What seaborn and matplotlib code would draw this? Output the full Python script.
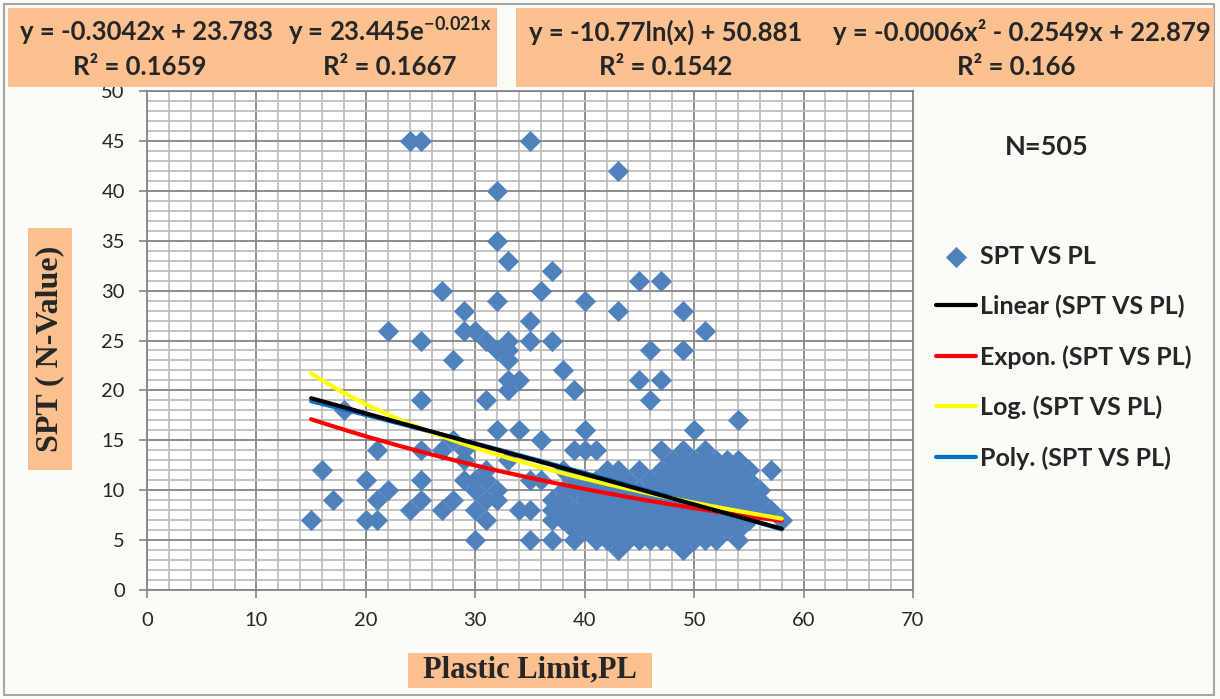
import matplotlib
matplotlib.use("Agg")
import matplotlib.pyplot as plt
from matplotlib.patches import Rectangle
from matplotlib.ticker import MultipleLocator
import numpy as np
import seaborn as sns

# ---------------- data ----------------
pl = [24, 25, 35, 43, 32, 32, 33, 37, 45, 47, 27, 36, 32, 40, 29, 43, 49, 35, 22, 29, 30, 51,
      25, 31, 33, 35, 37, 32, 33, 46, 49, 28, 33, 38, 33, 34, 45, 47, 33, 39, 25, 31, 46, 18,
      54, 32, 34, 40, 50, 28, 36, 21, 25, 27, 29, 39, 40, 41, 47, 29, 33, 16, 31, 42, 43, 45,
      57, 20, 25, 29, 30, 31, 35, 36, 22, 30, 32, 17, 21, 25, 28, 31, 32, 37, 24, 27, 30, 34,
      35, 37, 38, 15, 20, 21, 31, 37, 38, 58, 30, 35, 37, 39, 54,
      38, 38, 38, 38, 39, 39, 39, 39, 39,
      40, 40, 40, 40, 40, 40,
      41, 41, 41, 41, 41, 41, 41,
      42, 42, 42, 42, 42, 42, 42,
      43, 43, 43, 43, 43, 43, 43, 43,
      44, 44, 44, 44, 44, 44, 44,
      45, 45, 45, 45, 45, 45,
      46, 46, 46, 46, 46, 46, 46,
      47, 47, 47, 47, 47, 47, 47, 47,
      48, 48, 48, 48, 48, 48, 48, 48, 48,
      49, 49, 49, 49, 49, 49, 49, 49, 49, 49, 49,
      50, 50, 50, 50, 50, 50, 50, 50, 50,
      51, 51, 51, 51, 51, 51, 51, 51, 51, 51,
      52, 52, 52, 52, 52, 52, 52, 52, 52,
      53, 53, 53, 53, 53, 53, 53, 53,
      54, 54, 54, 54, 54, 54, 54, 54,
      55, 55, 55, 55, 55, 55,
      56, 56, 56, 57]
spt = [45, 45, 45, 42, 40, 35, 33, 32, 31, 31, 30, 30, 29, 29, 28, 28, 28, 27, 26, 26, 26, 26,
       25, 25, 25, 25, 25, 24, 24, 24, 24, 23, 23, 22, 21, 21, 21, 21, 20, 20, 19, 19, 19, 18,
       17, 16, 16, 16, 16, 15, 15, 14, 14, 14, 14, 14, 14, 14, 14, 13, 13, 12, 12, 12, 12, 12,
       12, 11, 11, 11, 11, 11, 11, 11, 10, 10, 10, 9, 9, 9, 9, 9, 9, 9, 8, 8, 8, 8,
       8, 8, 8, 7, 7, 7, 7, 7, 7, 7, 5, 5, 5, 5, 5,
       7, 9, 10, 12, 6, 7, 8, 10, 11,
       6, 7, 8, 9, 10, 11,
       5, 6, 7, 8, 9, 10, 11,
       5, 6, 7, 8, 9, 10, 11,
       4, 5, 6, 7, 8, 9, 10, 11,
       5, 6, 7, 8, 9, 10, 11,
       5, 6, 7, 8, 9, 10,
       5, 6, 7, 8, 9, 10, 11,
       5, 6, 7, 8, 9, 10, 11, 12,
       5, 6, 7, 8, 9, 10, 11, 12, 13,
       4, 5, 6, 7, 8, 9, 10, 11, 12, 13, 14,
       5, 6, 7, 8, 9, 10, 11, 12, 13,
       5, 6, 7, 8, 9, 10, 11, 12, 13, 14,
       5, 6, 7, 8, 9, 10, 11, 12, 13,
       6, 7, 8, 9, 10, 11, 12, 13,
       6, 7, 8, 9, 10, 11, 12, 13,
       7, 8, 9, 10, 11, 12,
       8, 9, 10, 8]

# trendline coefficients shown on the chart
lin_a, lin_b = -0.3042, 23.783
exp_a, exp_b = 23.445, -0.021
log_a, log_b = -10.77, 50.881
poly_a, poly_b, poly_c = -0.0006, -0.2549, 22.879
trend_range = (15, 58)

eq_texts = ["y = -0.3042x + 23.783", "y = 23.445e$^{\\mathrm{-0.021x}}$",
            "y = -10.77ln(x) + 50.881", "y = -0.0006x² - 0.2549x + 22.879"]
r2_texts = ["R² = 0.1659", "R² = 0.1667", "R² = 0.1542", "R² = 0.166"]

series_name = "SPT VS PL"
trend_labels = ["Linear (SPT VS PL)", "Expon. (SPT VS PL)", "Log. (SPT VS PL)", "Poly. (SPT VS PL)"]

# ---------------- style ----------------
sns.set_style("white")
plt.rcParams['font.family'] = ['Lato', 'DejaVu Sans']
plt.rcParams['mathtext.fontset'] = 'custom'
plt.rcParams['mathtext.rm'] = 'Lato:bold'
plt.rcParams['mathtext.bf'] = 'Lato:bold'
plt.rcParams['mathtext.it'] = 'Lato:bold:italic'

W, H = 1220, 699
fig = plt.figure(figsize=(W / 100, H / 100), dpi=100)
fig.patch.set_facecolor('#FBFBF8')
fig.patches.append(Rectangle((4 / W, 4 / H), 1 - 10 / W, 1 - 8 / H, transform=fig.transFigure,
                             facecolor='none', edgecolor='#A6A6A6', lw=1.5, zorder=0))

def px_rect(x0, y0, x1, y1, **kw):
    return Rectangle((x0 / W, 1 - y1 / H), (x1 - x0) / W, (y1 - y0) / H,
                     transform=fig.transFigure, **kw)

orange = '#FAC090'
fig.patches.append(px_rect(8, 8, 497, 87, facecolor=orange, edgecolor='none', zorder=1))
fig.patches.append(px_rect(516, 8, 1214, 87, facecolor=orange, edgecolor='none', zorder=1))
fig.patches.append(px_rect(28, 228, 72, 470, facecolor=orange, edgecolor='none', zorder=1))
fig.patches.append(px_rect(408, 653, 652, 688, facecolor=orange, edgecolor='none', zorder=1))

ax = fig.add_axes([147 / W, 1 - 590 / H, 766 / W, 499 / H])
ax.set_facecolor('white')

sns.scatterplot(x=pl, y=spt, ax=ax, marker='D', s=108, color='#4F81BD',
                edgecolor='#4F81BD', linewidth=0.4, label=series_name, zorder=3)

tx = np.linspace(trend_range[0], trend_range[1], 200)
trend_vals = [lin_a * tx + lin_b,
              exp_a * np.exp(exp_b * tx),
              log_a * np.log(tx) + log_b,
              poly_a * tx ** 2 + poly_b * tx + poly_c]
trend_colors = ['#000000', '#FF0000', '#FFFF00', '#0070C0']
trend_z = [7, 5, 6, 4]
for vals, lab, c, z in zip(trend_vals, trend_labels, trend_colors, trend_z):
    sns.lineplot(x=tx, y=vals, ax=ax, color=c, lw=3, label=lab, zorder=z)

ax.set_xlim(0, 70)
ax.set_ylim(0, 50)
ax.xaxis.set_major_locator(MultipleLocator(10))
ax.xaxis.set_minor_locator(MultipleLocator(2))
ax.yaxis.set_major_locator(MultipleLocator(5))
ax.yaxis.set_minor_locator(MultipleLocator(1))
ax.grid(which='minor', color='#BFBFBF', lw=1.3, zorder=0)
ax.grid(which='major', color='#868686', lw=1.3, zorder=1)
ax.set_axisbelow(True)
for s in ax.spines.values():
    s.set_color('#868686')
    s.set_linewidth(1.3)
ax.tick_params(which='major', direction='out', length=6, width=1.2, color='#868686',
               labelsize=14.5, pad=10, bottom=True, left=True)
ax.tick_params(which='minor', length=0)
ax.set_xlabel('')
ax.set_ylabel('')

leg = ax.legend(loc='upper left', bbox_to_anchor=(913 / W, 1 - 222 / H),
                bbox_transform=fig.transFigure, frameon=False,
                handlelength=1.6, handletextpad=0.2, labelspacing=1.08,
                prop={'weight': 'bold', 'size': 18})

# equation boxes
eq_x = [146, 390, 666, 1022]
r2_x = [140, 390, 666, 1016]
for t, x in zip(eq_texts, eq_x):
    fig.text(x / W, 1 - 32 / H, t, ha='center', va='center', fontsize=18.5, fontweight='bold')
for t, x in zip(r2_texts, r2_x):
    fig.text(x / W, 1 - 67 / H, t, ha='center', va='center', fontsize=18.5, fontweight='bold')

fig.text(1047 / W, 1 - 147 / H, 'N=505', ha='center', va='center', fontsize=19.5, fontweight='bold')

fig.text(50 / W, 1 - 349 / H, 'SPT ( N-Value)', rotation=90, ha='center', va='center',
         fontsize=23, fontweight='bold', family='Liberation Serif', zorder=2)
fig.text(530 / W, 1 - 670 / H, 'Plastic Limit,PL', ha='center', va='center',
         fontsize=22, fontweight='bold', family='Liberation Serif', zorder=2)

fig.savefig('out.png', dpi=100, facecolor=fig.get_facecolor())
